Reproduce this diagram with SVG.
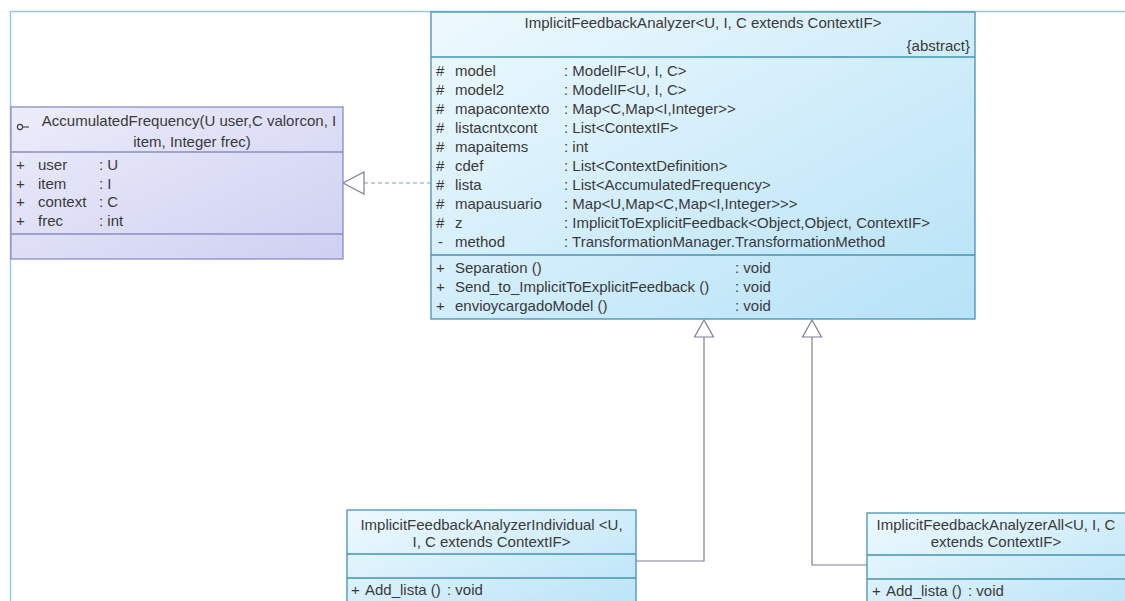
<svg xmlns="http://www.w3.org/2000/svg" width="1125" height="601" viewBox="0 0 1125 601">
<style>
  text { font-family: "Liberation Sans", Arial, sans-serif; font-size: 15px; fill: #3a3a3a; }
  .mid { text-anchor: middle; }
  .end { text-anchor: end; }
  .blue { fill: url(#gBlue); stroke: #4393b5; stroke-width: 1.3; }
  .sepB { stroke: #4393b5; stroke-width: 1.3; }
  .lav { fill: url(#gLav); stroke: #8c8cc4; stroke-width: 1.3; }
  .sepL { stroke: #8c8cc4; stroke-width: 1.3; }
  .conn { fill: none; stroke: #7c7c98; stroke-width: 1.2; }
  .tri { fill: #ffffff; stroke: #7c7c98; stroke-width: 1.2; }
  .dash { fill: none; stroke: #8a98bc; stroke-width: 1.2; stroke-dasharray: 4 3; }
</style>
<defs>
  <linearGradient id="gBlue" x1="0" y1="0" x2="1" y2="1">
    <stop offset="0" stop-color="#eef9fe"/>
    <stop offset="1" stop-color="#b6e2f7"/>
  </linearGradient>
  <linearGradient id="gLav" x1="0" y1="0" x2="1" y2="1">
    <stop offset="0" stop-color="#ececfb"/>
    <stop offset="1" stop-color="#cfd0f1"/>
  </linearGradient>
</defs>
<rect width="1125" height="601" fill="#ffffff"/>
<!-- frame -->
<path d="M10.5,620 V11.5 H1130" fill="none" stroke="#9cc6e8" stroke-width="1.5"/>

<g id="connectors">
  <line class="dash" x1="364" y1="183" x2="431" y2="183"/>
  <polygon class="tri" points="343,183 364,172 364,194"/>
  <path class="conn" d="M704,337 V561 H636"/>
  <polygon class="tri" points="704,320 694.5,337 713.5,337"/>
  <path class="conn" d="M812,337 V565 H867"/>
  <polygon class="tri" points="812,320 802.5,337 821.5,337"/>
</g>

<g id="AccumulatedFrequency">
  <rect class="lav" x="11" y="107" width="332" height="152"/>
  <circle cx="20" cy="127" r="2.6" fill="none" stroke="#3a3a3a" stroke-width="1.1"/>
  <line x1="22.6" y1="127" x2="29" y2="127" stroke="#3a3a3a" stroke-width="1.1"/>
  <text class="mid" x="189" y="126">AccumulatedFrequency(U user,C valorcon, I</text>
  <text class="mid" x="192" y="147">item, Integer frec)</text>
  <line class="sepL" x1="11" y1="152" x2="343" y2="152"/>
  <text x="16" y="170">+</text><text x="38" y="170">user</text><text x="99" y="170">: U</text>
  <text x="16" y="189">+</text><text x="38" y="189">item</text><text x="99" y="189">: I</text>
  <text x="16" y="207">+</text><text x="38" y="207">context</text><text x="99" y="207">: C</text>
  <text x="16" y="226">+</text><text x="38" y="226">frec</text><text x="99" y="226">: int</text>
  <line class="sepL" x1="11" y1="234" x2="343" y2="234"/>
</g>

<g id="ImplicitFeedbackAnalyzer">
  <rect class="blue" x="431" y="12" width="544" height="307"/>
  <text class="mid" x="703" y="28">ImplicitFeedbackAnalyzer&lt;U, I, C extends ContextIF&gt;</text>
  <text class="end" x="970" y="51">{abstract}</text>
  <line class="sepB" x1="431" y1="57" x2="975" y2="57"/>
  <text x="436" y="76">#</text><text x="455" y="76">model</text><text x="564" y="76">: ModelIF&lt;U, I, C&gt;</text>
  <text x="436" y="95">#</text><text x="455" y="95">model2</text><text x="564" y="95">: ModelIF&lt;U, I, C&gt;</text>
  <text x="436" y="114">#</text><text x="455" y="114">mapacontexto</text><text x="564" y="114">: Map&lt;C,Map&lt;I,Integer&gt;&gt;</text>
  <text x="436" y="133">#</text><text x="455" y="133">listacntxcont</text><text x="564" y="133">: List&lt;ContextIF&gt;</text>
  <text x="436" y="152">#</text><text x="455" y="152">mapaitems</text><text x="564" y="152">: int</text>
  <text x="436" y="171">#</text><text x="455" y="171">cdef</text><text x="564" y="171">: List&lt;ContextDefinition&gt;</text>
  <text x="436" y="190">#</text><text x="455" y="190">lista</text><text x="564" y="190">: List&lt;AccumulatedFrequency&gt;</text>
  <text x="436" y="209">#</text><text x="455" y="209">mapausuario</text><text x="564" y="209">: Map&lt;U,Map&lt;C,Map&lt;I,Integer&gt;&gt;&gt;</text>
  <text x="436" y="228">#</text><text x="455" y="228">z</text><text x="564" y="228">: ImplicitToExplicitFeedback&lt;Object,Object, ContextIF&gt;</text>
  <text x="438" y="247">-</text><text x="455" y="247">method</text><text x="564" y="247">: TransformationManager.TransformationMethod</text>
  <line class="sepB" x1="431" y1="255" x2="975" y2="255"/>
  <text x="436" y="273">+</text><text x="455" y="273">Separation ()</text><text x="735" y="273">: void</text>
  <text x="436" y="292">+</text><text x="455" y="292">Send_to_ImplicitToExplicitFeedback ()</text><text x="735" y="292">: void</text>
  <text x="436" y="311">+</text><text x="455" y="311">envioycargadoModel ()</text><text x="735" y="311">: void</text>
</g>

<g id="ImplicitFeedbackAnalyzerIndividual">
  <rect class="blue" x="347" y="510" width="289" height="110"/>
  <text class="mid" x="491.5" y="530">ImplicitFeedbackAnalyzerIndividual &lt;U,</text>
  <text class="mid" x="491.5" y="547">I, C extends ContextIF&gt;</text>
  <line class="sepB" x1="347" y1="554" x2="636" y2="554"/>
  <line class="sepB" x1="347" y1="578" x2="636" y2="578"/>
  <text x="351" y="595">+</text><text x="365" y="595">Add_lista ()</text><text x="447" y="595">: void</text>
</g>

<g id="ImplicitFeedbackAnalyzerAll">
  <rect class="blue" x="867" y="513" width="275" height="110"/>
  <text class="mid" x="996" y="530">ImplicitFeedbackAnalyzerAll&lt;U, I, C</text>
  <text class="mid" x="996" y="547">extends ContextIF&gt;</text>
  <line class="sepB" x1="867" y1="555" x2="1125" y2="555"/>
  <line class="sepB" x1="867" y1="579" x2="1125" y2="579"/>
  <text x="872" y="596">+</text><text x="886" y="596">Add_lista ()</text><text x="968" y="596">: void</text>
</g>
</svg>
